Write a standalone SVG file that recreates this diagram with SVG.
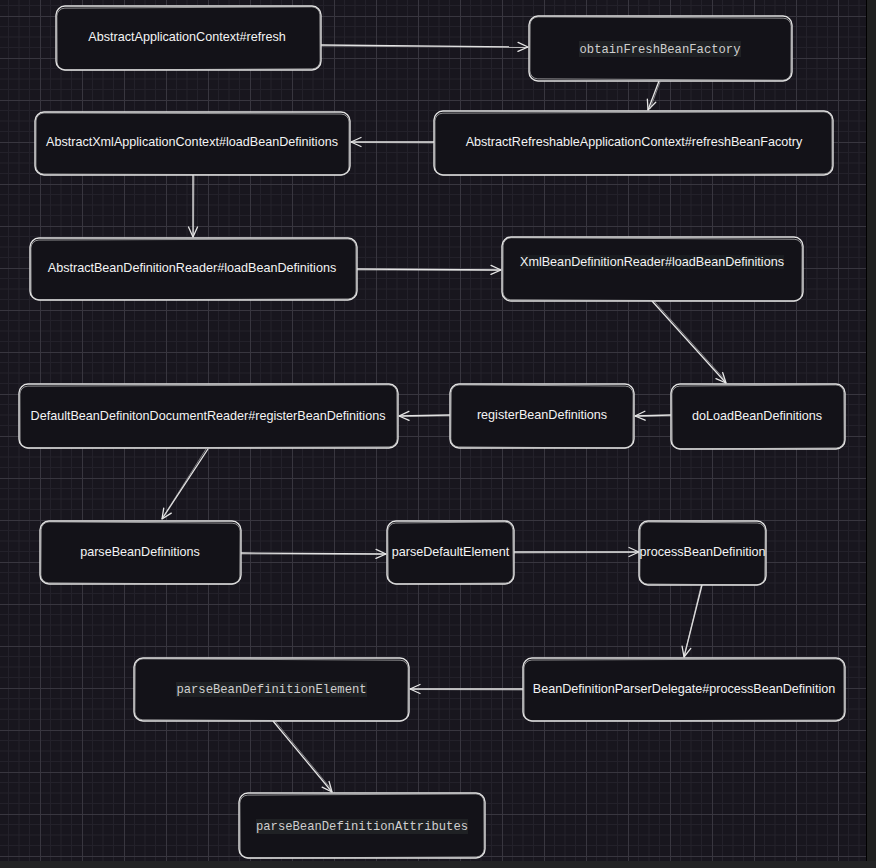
<svg xmlns="http://www.w3.org/2000/svg" width="876" height="868" viewBox="0 0 876 868">
<defs>
<pattern id="grid" x="-2" y="16" width="42" height="42" patternUnits="userSpaceOnUse">
<path d="M10.5 0V42M21 0V42M31.5 0V42M0 10.5H42M0 21H42M0 31.5H42" stroke="#23212a" stroke-width="1" fill="none"/>
<path d="M0.5 0V42M0 0.5H42" stroke="#38363f" stroke-width="1" fill="none"/>
</pattern>
<marker id="arr" viewBox="0 0 12 12" refX="11" refY="6" markerWidth="12" markerHeight="12" markerUnits="userSpaceOnUse" orient="auto">
<path d="M1 1.5L11 6L1 10.5" fill="none" stroke="#e6e6e6" stroke-width="1.3" stroke-linecap="round" stroke-linejoin="round"/>
</marker>
</defs>
<style>
.n{fill:#131218;stroke:#e2e2e2;stroke-width:1.4}
.n2{fill:none;stroke:#d0d0d0;stroke-width:0.9;opacity:0.75}
.t{font-family:"Liberation Sans",Arial,sans-serif;font-size:12.6px;fill:#f4f4f4;text-anchor:middle;dominant-baseline:central}
.m{font-family:"Liberation Mono","Courier New",monospace;font-size:12.2px;fill:#cfcfcf;text-anchor:middle;dominant-baseline:central}
.hl{fill:#1f2124}
.c{fill:none;stroke:#e6e6e6;stroke-width:1.3;marker-end:url(#arr)}
.c2{fill:none;stroke:#cfcfcf;stroke-width:0.8;opacity:0.7}
</style>
<rect x="0" y="0" width="876" height="868" fill="#18161e"/>
<rect x="0" y="0" width="866" height="861" fill="url(#grid)"/>
<rect x="866" y="0" width="1" height="861" fill="#000"/>
<rect x="867" y="0" width="9" height="868" fill="#1f2020"/>
<rect x="0" y="861" width="876" height="7" fill="#232425"/>

<g id="connectors">
<path class="c" d="M321 45L528 47"/><path class="c2" d="M321 46L526 47.5"/>
<path class="c" d="M659 81L648 110"/><path class="c2" d="M660 82L650 109"/>
<path class="c" d="M434 142L351 142"/><path class="c2" d="M433 143L353 142.5"/>
<path class="c" d="M193 175L193 237"/><path class="c2" d="M194 176L193.5 235"/>
<path class="c" d="M357 269L501 270"/><path class="c2" d="M357 270L499 270.5"/>
<path class="c" d="M652 301L726 383"/><path class="c2" d="M654 301L726 381"/>
<path class="c" d="M671 415L635 416"/><path class="c2" d="M671 416L637 416.5"/>
<path class="c" d="M450 415L399 416"/><path class="c2" d="M450 416L401 416.5"/>
<path class="c" d="M208 449L162 519"/><path class="c2" d="M206 449L163 517"/>
<path class="c" d="M241 553L386 554"/><path class="c2" d="M241 554L384 554.5"/>
<path class="c" d="M514 552L639 552"/><path class="c2" d="M514 553L637 552.5"/>
<path class="c" d="M702 585L684 657"/><path class="c2" d="M701 586L684.5 655"/>
<path class="c" d="M523 689L410 689"/><path class="c2" d="M523 690L412 689.5"/>
<path class="c" d="M273 721L332 792"/><path class="c2" d="M275 721L332 790"/>
</g>

<g id="n1">
<rect class="n" x="56" y="6" width="265" height="64" rx="9"/>
<rect class="n2" x="57" y="7.5" width="263" height="62" rx="8" transform="rotate(-0.3 188 38)"/>
<text class="t" x="187" y="37">AbstractApplicationContext#refresh</text>
</g>
<g id="n2">
<rect class="n" x="529" y="16" width="263" height="65" rx="9"/>
<rect class="n2" x="530" y="17.5" width="261" height="62" rx="8" transform="rotate(0.3 660 48)"/>
<rect class="hl" x="579" y="41" width="162" height="16"/>
<text class="m" x="660" y="49.5">obtainFreshBeanFactory</text>
</g>
<g id="n3">
<rect class="n" x="434" y="111" width="399" height="64" rx="9"/>
<rect class="n2" x="435" y="112.5" width="397" height="62" rx="8" transform="rotate(-0.2 633 143)"/>
<text class="t" x="634" y="142">AbstractRefreshableApplicationContext#refreshBeanFacotry</text>
</g>
<g id="n4">
<rect class="n" x="35" y="112" width="315" height="63" rx="9"/>
<rect class="n2" x="36" y="113.5" width="313" height="61" rx="8" transform="rotate(0.2 192 143)"/>
<text class="t" x="192" y="142">AbstractXmlApplicationContext#loadBeanDefinitions</text>
</g>
<g id="n5">
<rect class="n" x="30" y="238" width="327" height="62" rx="9"/>
<rect class="n2" x="31" y="239.5" width="325" height="60" rx="8" transform="rotate(-0.2 193 269)"/>
<text class="t" x="192" y="268">AbstractBeanDefinitionReader#loadBeanDefinitions</text>
</g>
<g id="n6">
<rect class="n" x="502" y="237" width="301" height="64" rx="9"/>
<rect class="n2" x="503" y="238.5" width="299" height="62" rx="8" transform="rotate(0.3 652 269)"/>
<rect x="520" y="255" width="264" height="14" fill="#191b1f"/>
<text class="t" x="652" y="261.5">XmlBeanDefinitionReader#loadBeanDefinitions</text>
</g>
<g id="n7">
<rect class="n" x="671" y="384" width="174" height="65" rx="9"/>
<rect class="n2" x="672" y="385.5" width="172" height="63" rx="8" transform="rotate(-0.4 758 416)"/>
<text class="t" x="757" y="416">doLoadBeanDefinitions</text>
</g>
<g id="n8">
<rect class="n" x="450" y="384" width="184" height="64" rx="9"/>
<rect class="n2" x="451" y="385.5" width="182" height="62" rx="8" transform="rotate(0.4 542 416)"/>
<text class="t" x="542" y="415">registerBeanDefinitions</text>
</g>
<g id="n9">
<rect class="n" x="19" y="384" width="379" height="64" rx="9"/>
<rect class="n2" x="20" y="385.5" width="377" height="62" rx="8" transform="rotate(-0.2 208 416)"/>
<text class="t" x="208" y="415.5">DefaultBeanDefinitonDocumentReader#registerBeanDefinitions</text>
</g>
<g id="n10">
<rect class="n" x="40" y="521" width="201" height="63" rx="9"/>
<rect class="n2" x="41" y="522.5" width="199" height="61" rx="8" transform="rotate(0.4 140 553)"/>
<text class="t" x="140" y="551.5">parseBeanDefinitions</text>
</g>
<g id="n11">
<rect class="n" x="387" y="521" width="127" height="63" rx="9"/>
<rect class="n2" x="388" y="522.5" width="125" height="61" rx="8" transform="rotate(-0.5 450 553)"/>
<text class="t" x="450.5" y="551.5">parseDefaultElement</text>
</g>
<g id="n12">
<rect class="n" x="639" y="521" width="127" height="64" rx="9"/>
<rect class="n2" x="640" y="522.5" width="125" height="62" rx="8" transform="rotate(0.5 702 553)"/>
<text class="t" x="702.5" y="551.5">processBeanDefinition</text>
</g>
<g id="n13">
<rect class="n" x="523" y="658" width="322" height="63" rx="9"/>
<rect class="n2" x="524" y="659.5" width="320" height="61" rx="8" transform="rotate(-0.2 684 690)"/>
<text class="t" x="684" y="689">BeanDefinitionParserDelegate#processBeanDefinition</text>
</g>
<g id="n14">
<rect class="n" x="134" y="658" width="275" height="63" rx="9"/>
<rect class="n2" x="135" y="659.5" width="273" height="61" rx="8" transform="rotate(0.3 272 690)"/>
<rect class="hl" x="176" y="682" width="191" height="15"/>
<text class="m" x="271.5" y="690">parseBeanDefinitionElement</text>
</g>
<g id="n15">
<rect class="n" x="239" y="793" width="246" height="65" rx="9"/>
<rect class="n2" x="240" y="794.5" width="244" height="63" rx="8" transform="rotate(-0.3 362 826)"/>
<rect class="hl" x="256" y="819" width="212" height="15"/>
<text class="m" x="362" y="827">parseBeanDefinitionAttributes</text>
</g>
</svg>
